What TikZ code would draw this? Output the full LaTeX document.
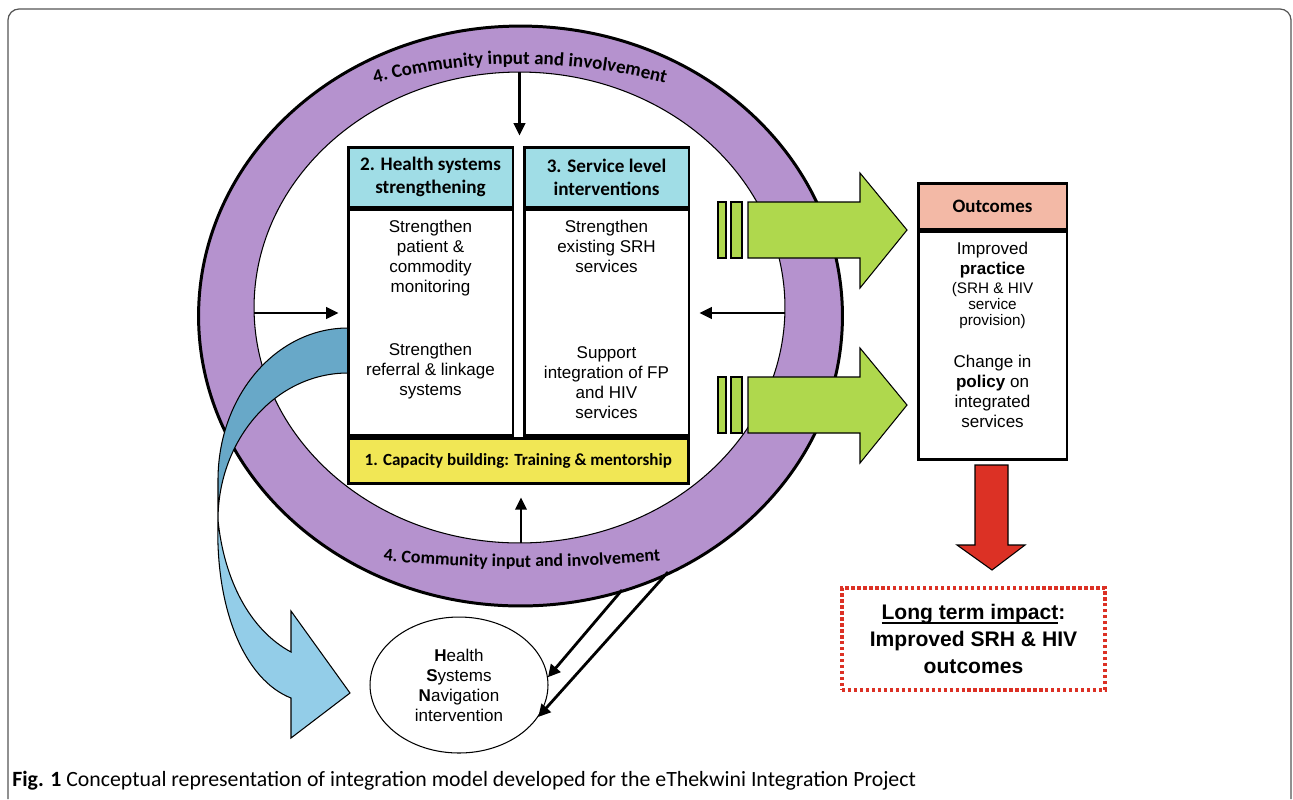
\documentclass[tikz,border=0pt]{standalone}
\usepackage{fontspec}
\setmainfont{Liberation Sans}
\newfontfamily\calib{Carlito}
\usetikzlibrary{calc,shapes.geometric,arrows.meta,decorations.text}
\definecolor{ringpurple}{RGB}{181,146,206}
\definecolor{headcyan}{RGB}{160,221,230}
\definecolor{capyellow}{RGB}{241,231,85}
\definecolor{arrowgreen}{RGB}{175,216,77}
\definecolor{outsalmon}{RGB}{243,185,166}
\definecolor{impactred}{RGB}{220,49,37}
\definecolor{banddark}{RGB}{104,168,200}
\definecolor{bandlight}{RGB}{147,205,232}
\definecolor{framegray}{RGB}{85,85,85}
\newcommand\nearline[1]{\setbox0\hbox{#1}\rlap{\rule[-2.4pt]{\wd0}{1pt}}\box0}
\tikzset{
headbox/.style = {draw, line width = 1.7pt, fill = headcyan, minimum width = 3.3cm, minimum height = 1.2cm, inner sep = 0pt, align = center, font = \calib\bfseries\fontsize{10.9}{13.1}\selectfont},
bodybox/.style = {draw, line width = 1.7pt, fill = white, minimum width = 3.3cm, minimum height = 4.52cm, inner sep = 0pt},
bodytext/.style = {anchor = north, inner sep = 0pt, align = center, font = \fontsize{9.7}{11.4}\selectfont},
ringarrow/.style = {line width = 1.4pt, -{Triangle[length = 7pt, width = 6.5pt]}},
hsnarrow/.style = {line width = 1.6pt, -{Triangle[length = 7pt, width = 7pt]}},
greenarrow/.style = {fill = arrowgreen, draw = black, line width = 0.6pt}}

\begin{document}
\begin{tikzpicture}[x=0.02cm, y=-0.02cm]
%
\useasboundingbox (0,0) rectangle (1293,799);
%
% frame
\draw[framegray, line width = 0.7pt, rounded corners = 0.22cm] (8,799)--(8,9)--(1291,9)--(1291,799);
%
%''''''''''''''''''''''''''''ring''''''''''''''''''''''''''''''''''''''''''''''''''''''''
\def\outrx{6.44cm} % outer x-radius
\def\outry{5.8cm} % outer y-radius
\def\inrx{5.31cm} % inner x-radius
\def\inry{4.71cm} % inner y-radius
%
\fill[ringpurple, even odd rule](520.5,316) ellipse [x radius = \outrx, y radius = \outry]
  (519.5,307.5) ellipse [x radius = \inrx, y radius = \inry];
\draw[line width = 1.7pt](520.5,316) ellipse [x radius = \outrx, y radius = \outry];
\draw[line width = 0.6pt](519.5,307.5) ellipse [x radius = \inrx, y radius = \inry];
%
% ring labels
\path[decorate, decoration = {text along path, text align = center,
  text = {|\calib\bfseries\fontsize{10.8}{12}\selectfont|4. Community input and involvement}}]
  plot[domain = -170:170, samples = 41] ({520+\x},{64+(\x/10)^2/11});
\path[decorate, decoration = {text along path, text align = center,
  text = {|\calib\bfseries\fontsize{10.2}{12}\selectfont|4. Community input and involvement}}]
  plot[domain = -160:160, samples = 41] ({522+\x},{567-(\x/10)^2/30});
%
% points on the ring
\coordinate (rin-n) at (519.5,72);
\coordinate (rin-w) at (254,313);
\coordinate (rin-e) at (785,313);
\coordinate (rin-s) at (521,543);
\coordinate (rin-a) at (622,590);
\coordinate (rin-b) at (668,572);
%''''''''''''''''''''''''''''''''''''''''''''''''''''''''''''''''''''''''''''''''''''''''
%
% navigation band (light part, then dark part)
\filldraw[fill = bandlight, line width = 0.6pt](218,520) .. controls (215,610) and (245,680) .. (291,698)
  --(291,738)--(350,693)--(291,611)--(291,652) .. controls (250,630) and (224,580) .. (218,520)--cycle;
\filldraw[fill = banddark, line width = 0.6pt](348,328) .. controls (276,328) and (218,396) .. (218,480)
  --(218,520) .. controls (218,439) and (276,373) .. (348,373)--cycle;
%
%----------------------------------------------------------------------------------
% centre boxes
\node[headbox](hshead) at (430.5,177){2. Health systems\\strengthening};
\node[bodybox, anchor = north](hsbody) at (hshead.south){};
\node[headbox](slhead) at (606.5,177){3. Service level\\interventions};
\node[bodybox, anchor = north](slbody) at (slhead.south){};
\node[draw, line width = 1.7pt, fill = capyellow, minimum width = 6.81cm, minimum height = 0.9cm, inner sep = 0pt,
  anchor = north west, font = \calib\bfseries\fontsize{9.7}{12}\selectfont](capb) at (hsbody.south west)
  {1. Capacity building: Training \& mentorship};
%
\node[bodytext](hstop) at (430.5,220){Strengthen\\patient \&\\commodity\\monitoring};
\node[bodytext](hsbot) at (430.5,343){Strengthen\\referral \& linkage\\systems};
\node[bodytext](sltop) at (606.5,220){Strengthen\\existing SRH\\services};
\node[bodytext](slbot) at (606.5,346){Support\\integration of FP\\and HIV\\services};
%----------------------------------------------------------------------------------
%
% arrows from the ring
\draw[ringarrow, shorten > = 0.2cm](rin-n)--(rin-n |- hshead.north);
\draw[ringarrow, shorten > = 0.16cm](rin-w)--(rin-w -| hsbody.west);
\draw[ringarrow, shorten > = 0.18cm](rin-e)--(rin-e -| slbody.east);
\draw[ringarrow, shorten > = 0.24cm](rin-s)--(rin-s |- capb.south);
%
% green arrows
\foreach \dy in {0,175}{
\filldraw[greenarrow](718,202+\dy) rectangle (726,258+\dy);
\filldraw[greenarrow](731,202+\dy) rectangle (742,258+\dy);
\filldraw[greenarrow](748,202+\dy)--(860,202+\dy)--(860,173+\dy)--(907,230+\dy)--(860,288+\dy)--(860,258+\dy)--(748,258+\dy)--cycle;
}
%
%----------------------------------------------------------------------------------
% outcomes
\node[draw, line width = 1.7pt, fill = outsalmon, minimum width = 2.98cm, minimum height = 0.92cm, inner sep = 0pt,
  font = \calib\bfseries\fontsize{10.8}{13}\selectfont](outhead) at (992.5,206){Outcomes};
\node[draw, line width = 1.7pt, minimum width = 2.98cm, minimum height = 4.56cm, anchor = north](outbody) at (outhead.south){};
\node[bodytext](outprac) at (992.5,242){Improved\\\textbf{practice}};
\node[bodytext, font = \fontsize{8.7}{9.1}\selectfont](outserv) at (992.5,282){(SRH \& HIV\\service\\provision)};
\node[bodytext](outpol) at (992.5,355){Change in\\\textbf{policy} on\\integrated\\services};
%
% impact arrow
\filldraw[fill = impactred, line width = 0.6pt](975,465)--(1008,465)--(1008,545)--(1025,545)--(992,570)--(957,545)--(975,545)--cycle;
\node[draw = impactred, line width = 1.8pt, dash pattern = on 1.9pt off 1.5pt, minimum width = 5.26cm, minimum height = 2.04cm,
  align = center, font = \bfseries\fontsize{12}{15.4}\selectfont](impact) at (973.5,639)
  {\nearline{Long term impact}:\\Improved SRH \& HIV\\outcomes};
%----------------------------------------------------------------------------------
%
% navigation intervention
\node[ellipse, draw, line width = 0.6pt, minimum width = 3.56cm, minimum height = 2.72cm, inner sep = 0pt,
  align = center, font = \fontsize{9.7}{11.4}\selectfont](hsn) at (459,685)
  {\textbf{H}ealth\\\textbf{S}ystems\\\textbf{N}avigation\\intervention};
\draw[hsnarrow](rin-a)--(hsn.5);
\draw[hsnarrow](rin-b)--(hsn.-22);
%
% caption
\node[anchor = base west, inner sep = 0pt, font = \calib\fontsize{12.4}{14}\selectfont](caption) at (12,786)
  {\textbf{Fig. 1} Conceptual representation of integration model developed for the eThekwini Integration Project};
%
\end{tikzpicture}
\end{document}
